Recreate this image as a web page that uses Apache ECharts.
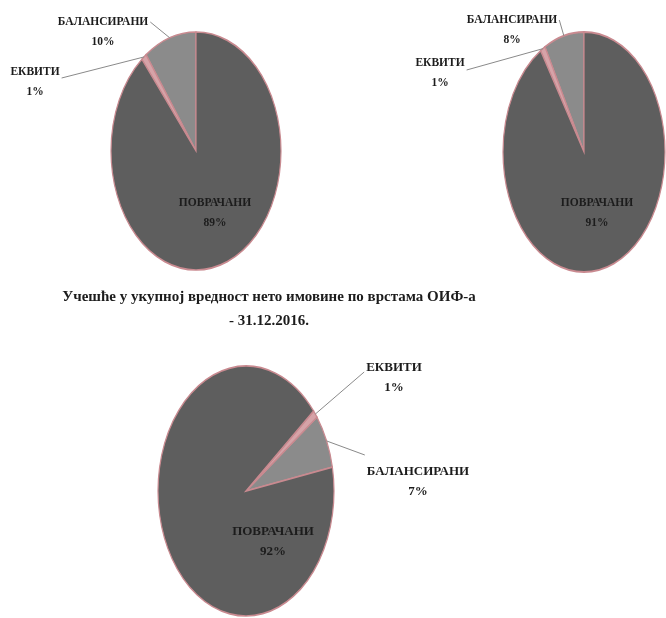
<!DOCTYPE html>
<html>
<head>
<meta charset="utf-8">
<script src="https://cdn.jsdelivr.net/npm/echarts@6/dist/echarts.min.js"></script>
<style>
html,body{margin:0;padding:0;background:#fff;}
#chart{width:666px;height:618px;}
</style>
</head>
<body>
<div id="chart"></div>
<script>
// ---- data ----
const categories = ['БАЛАНСИРАНИ', 'ЕКВИТИ', 'ПОВРАЧАНИ'];
const valuesA = [10, 1, 89];
const valuesB = [8, 1, 91];
const valuesC = [7, 1, 92];
const titleLines = ['Учешће у укупној вредност нето имовине по врстама ОИФ-а', '- 31.12.2016.'];

// ---- layout / style ----
const FONT_FAMILY = '"Liberation Serif", "DejaVu Serif", serif';
const sliceColors = ['#8b8b8b', '#d6a3a8', '#5e5e5e'];
const edgeColor = '#c98a90';
const pies = [
  { values: valuesA, center: [196, 151], rx: 85, ry: 119, startDeg: 90,
    labels: [{ pos: [103, 22], dy: 0, leader: true }, { pos: [35, 72], dy: 6, leader: true }, { pos: [215, 203], dy: 0, leader: false }],
    fontSize: 11.5 },
  { values: valuesB, center: [584, 152], rx: 81, ry: 120, startDeg: 90,
    labels: [{ pos: [512, 20], dy: 0, leader: true }, { pos: [440, 63], dy: 7, leader: true }, { pos: [597, 203], dy: 0, leader: false }],
    fontSize: 11.5 },
  { values: valuesC, center: [246, 491], rx: 88, ry: 125, startDeg: 11,
    labels: [{ pos: [418, 472], dy: -17, leader: true }, { pos: [394, 368], dy: 4, leader: true }, { pos: [273, 532], dy: 0, leader: false }],
    fontSize: 13 }
];

const measureCtx = document.createElement('canvas').getContext('2d');
function textWidth(t, font) { measureCtx.font = font; return measureCtx.measureText(t).width; }

function makeRenderItem(cfg) {
  const vals = cfg.values;
  const sum = vals.reduce((a, b) => a + b, 0);
  return function (params, api) {
    const i = params.dataIndex;
    const v = api.value(0);
    let cum = 0;
    for (let k = 0; k < i; k++) cum += vals[k];
    const a0 = cfg.startDeg + cum / sum * 360;
    const a1 = cfg.startDeg + (cum + v) / sum * 360;
    const cx = cfg.center[0], cy = cfg.center[1];
    const font = 'bold ' + cfg.fontSize + 'px ' + FONT_FAMILY;
    const children = [{
      type: 'sector',
      x: cx, y: cy, scaleY: cfg.ry / cfg.rx,
      shape: { cx: 0, cy: 0, r0: 0, r: cfg.rx, startAngle: -a1 * Math.PI / 180, endAngle: -a0 * Math.PI / 180, clockwise: true },
      style: { fill: sliceColors[i], stroke: edgeColor, lineWidth: 1.2, strokeNoScale: true }
    }];
    const lab = cfg.labels[i];
    const name = categories[i];
    const pct = v + '%';
    const lx = lab.pos[0], ly = lab.pos[1];
    children.push({ type: 'text', x: lx, y: ly, style: { text: name, font: font, fill: '#1c1c1c', align: 'center', verticalAlign: 'middle' } });
    children.push({ type: 'text', x: lx, y: ly + 20, style: { text: pct, font: font, fill: '#1c1c1c', align: 'center', verticalAlign: 'middle' } });
    if (lab.leader) {
      const am = (a0 + a1) / 2 * Math.PI / 180;
      const px = cx + cfg.rx * Math.cos(am);
      const py = cy - cfg.ry * Math.sin(am);
      const w = textWidth(name, font);
      const ax = px > lx ? lx + w / 2 + 2 : lx - w / 2 - 2;
      const ay = ly + lab.dy;
      children.push({ type: 'polyline', shape: { points: [[ax, ay], [px, py]] }, style: { stroke: '#8a8a8a', lineWidth: 1, fill: null } });
    }
    return { type: 'group', children: children };
  };
}

const chart = echarts.init(document.getElementById('chart'), null, { renderer: 'canvas' });
chart.setOption({
  animation: false,
  backgroundColor: '#ffffff',
  graphic: titleLines.map((t, k) => ({
    type: 'text', x: 269, y: 297 + k * 24,
    style: { text: t, font: 'bold 15px ' + FONT_FAMILY, fill: '#1c1c1c', align: 'center', verticalAlign: 'middle' }
  })),
  series: pies.map(cfg => ({
    type: 'custom',
    coordinateSystem: 'none',
    renderItem: makeRenderItem(cfg),
    data: cfg.values.map((v, i) => ({ name: categories[i], value: [v] }))
  }))
});
</script>
</body>
</html>
